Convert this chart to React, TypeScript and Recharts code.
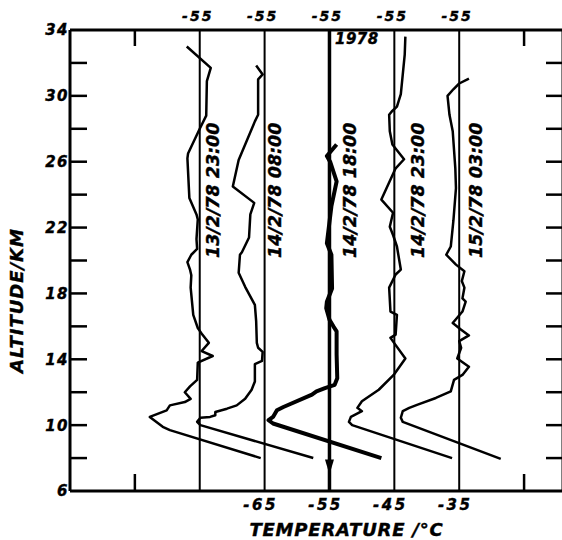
import React from 'react';
import { ComposedChart, Line, XAxis, YAxis, ReferenceLine, ReferenceDot, Label } from 'recharts';

const FONT = "'DejaVu Sans', 'Liberation Sans', sans-serif";
const textStyle: any = { fontFamily: FONT, fontWeight: 700, fontStyle: 'italic', fill: '#000', stroke: '#000', strokeWidth: 0.4 };

// Radiosonde profiles: [altitude km, temperature degC]
const profileNames = ['13/2/78 23:00', '14/2/78 08:00', '14/2/78 18:00', '14/2/78 23:00', '15/2/78 03:00'];
const profileOffsets = [-20, -10, 0, 10, 20];
const referenceTemp = -55;
const yearLabel = '1978';

const profile1: [number, number][] = [
  [8.0, -45.6], [9.7, -59.6], [9.9, -60.7], [10.5, -62.7], [10.9, -60.1], [11.2, -59.6], [11.4, -57.3],
  [11.6, -56.4], [12.0, -57.3], [12.35, -56.5], [12.75, -55.4], [13.8, -55.3], [14.2, -53.0], [14.5, -54.7],
  [15.0, -53.6], [15.5, -54.6], [15.9, -55.3], [16.7, -56.0], [18.35, -56.4], [19.1, -56.3], [19.45, -56.5],
  [19.9, -56.9], [20.35, -56.3], [20.7, -55.4], [21.3, -55.5], [22.5, -55.3], [22.8, -55.5], [23.8, -56.6],
  [26.2, -56.9], [26.5, -56.8], [28.0, -55.0], [28.8, -54.0], [30.9, -53.9], [31.7, -53.3], [33.0, -57.0],
];
const profile2: [number, number][] = [
  [8.0, -47.5], [10.0, -64.9], [10.2, -65.4], [10.45, -64.9], [10.5, -63.4], [10.6, -62.6], [10.8, -62.6],
  [11.0, -60.8], [11.2, -59.3], [11.6, -58.0], [12.15, -57.0], [12.65, -56.5], [13.7, -56.5], [13.9, -55.4],
  [14.45, -55.3], [14.7, -56.0], [15.0, -56.2], [16.3, -56.3], [17.3, -56.5], [18.4, -58.0], [19.25, -59.0],
  [20.35, -58.8], [20.5, -58.5], [21.4, -57.4], [22.8, -57.2], [23.5, -56.6], [24.5, -59.9], [26.1, -59.0],
  [28.45, -56.5], [28.85, -56.0], [31.0, -56.0], [31.3, -55.3], [31.85, -56.3],
];
const profile3: [number, number][] = [
  [8.0, -47.0], [10.1, -63.7], [10.3, -64.4], [10.5, -63.7], [10.9, -63.1], [11.1, -62.1], [11.85, -57.7],
  [12.05, -57.0], [12.25, -55.7], [12.45, -54.2], [12.85, -53.8], [14.3, -53.9], [15.7, -53.9], [16.0, -54.4],
  [16.4, -55.0], [17.1, -55.5], [17.5, -55.4], [18.3, -54.6], [20.35, -54.7], [21.05, -55.4], [23.3, -54.7],
  [24.8, -53.9], [26.0, -54.9], [26.35, -55.4], [27.05, -53.9],
];
const profile4: [number, number][] = [
  [8.0, -46.1], [10.0, -61.5], [10.2, -62.0], [10.5, -61.7], [10.85, -60.0], [11.05, -60.7], [11.45, -60.0],
  [12.15, -57.4], [13.05, -55.1], [14.05, -53.3], [15.3, -55.6], [15.5, -54.8], [16.7, -54.6], [16.9, -55.6],
  [18.35, -55.8], [19.15, -54.8], [19.45, -54.0], [20.85, -54.6], [21.55, -55.2], [22.05, -55.7], [22.9, -55.2],
  [23.7, -57.0], [25.6, -54.8], [26.15, -53.5], [27.05, -55.3], [27.85, -55.7], [28.85, -55.8], [29.05, -55.4],
  [29.35, -54.6], [30.1, -54.0], [31.3, -53.7], [32.5, -53.4], [33.6, -53.3],
];
const profile5: [number, number][] = [
  [7.95, -48.6], [10.2, -63.7], [10.45, -64.0], [10.85, -63.7], [11.05, -62.7], [11.25, -61.4], [11.65, -58.6],
  [12.05, -56.3], [12.75, -55.8], [13.05, -54.5], [13.55, -53.5], [14.05, -55.3], [14.7, -54.7], [15.1, -55.0],
  [15.45, -53.5], [15.8, -54.7], [16.2, -56.0], [16.9, -54.5], [17.5, -54.0], [17.7, -54.5], [18.35, -54.2],
  [18.75, -54.6], [19.35, -54.2], [19.75, -55.5], [20.35, -57.0], [20.85, -56.3], [22.4, -55.9], [24.4, -55.5],
  [25.6, -55.6], [27.85, -56.0], [28.85, -56.5], [30.0, -56.8], [30.4, -55.9], [30.75, -55.0], [31.05, -53.5],
];

// label anchor (bottom end of rotated label), relative to each reference line
const labelShift = [2.0, 1.5, 3.1, 3.6, 2.6];
const labelAlt = 20.15;
const arrowAlt = 7.0;
const yearPos = { t: -54.15, alt: 33.45 };

const altTicks = [6, 8, 10, 12, 14, 16, 18, 20, 22, 24, 26, 28, 30, 32, 34];
const altLabelTicks = [6, 10, 14, 18, 22, 26, 30, 34];
const tempTicks = [-85, -75, -65, -55, -45, -35, -25];
const bottomLabelTicks = [-65, -55, -45, -35];
const edgeTempTicks = [-85, -25];
const tempDomain: [number, number] = [-95, -19];
const altDomain: [number, number] = [6, 34];

const profiles = [profile1, profile2, profile3, profile4, profile5];
const series = profiles.map((pts, i) => pts.map(([alt, temp]) => ({ alt, t: temp + profileOffsets[i] })));
const refPositions = profileOffsets.map((o) => referenceTemp + o);

const renderLeftTick = (props: any) => {
  const { x, y, payload } = props;
  const v = payload.value;
  return (
    <g>
      {v > altDomain[0] && v < altDomain[1] && (
        <line x1={x} x2={x + 17} y1={y} y2={y} stroke="#000" strokeWidth={2.5} />
      )}
      {altLabelTicks.includes(v) && (
        <text x={x - 1} y={y} dy="0.36em" textAnchor="end" fontSize={15} letterSpacing={1.5} style={textStyle}>
          {v}
        </text>
      )}
    </g>
  );
};

const renderRightTick = (props: any) => {
  const { x, y, payload } = props;
  const v = payload.value;
  if (!(v > altDomain[0] && v < altDomain[1])) return <g />;
  return <line x1={x - 17} x2={x} y1={y} y2={y} stroke="#000" strokeWidth={2.5} />;
};

const renderTopTick = (props: any) => {
  const { x, y, payload } = props;
  const v = payload.value;
  if (edgeTempTicks.includes(v)) {
    return <line x1={x} x2={x} y1={y} y2={y + 16} stroke="#000" strokeWidth={2.5} />;
  }
  if (refPositions.includes(v)) {
    return (
      <text x={x - 2} y={y - 9} textAnchor="middle" fontSize={14} letterSpacing={2} style={textStyle}>
        {referenceTemp}
      </text>
    );
  }
  return <g />;
};

const renderBottomTick = (props: any) => {
  const { x, y, payload } = props;
  const v = payload.value;
  if (edgeTempTicks.includes(v)) {
    return <line x1={x} x2={x} y1={y} y2={y - 17} stroke="#000" strokeWidth={2.5} />;
  }
  if (bottomLabelTicks.includes(v)) {
    return (
      <text x={x - 4} y={y + 19} textAnchor="middle" fontSize={15} letterSpacing={2.5} style={textStyle}>
        {v}
      </text>
    );
  }
  return <g />;
};

const XTitle = (props: any) => {
  const vb = props.viewBox || { x: 70, y: 491, width: 493, height: 49 };
  return (
    <text x={vb.x + vb.width / 2 + 30} y={vb.y + vb.height - 4} textAnchor="middle" fontSize={18} letterSpacing={0.8} style={textStyle}>
      TEMPERATURE /°C
    </text>
  );
};

const YTitle = (props: any) => {
  const vb = props.viewBox || { x: 0, y: 30, width: 70, height: 461 };
  const cx = vb.x + 17;
  const cy = vb.y + vb.height / 2 + 40;
  return (
    <text x={cx} y={cy} dy="0.36em" transform={`rotate(-90 ${cx} ${cy})`} textAnchor="middle" fontSize={18} letterSpacing={1} style={textStyle}>
      ALTITUDE/KM
    </text>
  );
};

const makeProfileLabel = (text: string) => (p: any) => (
  <text x={p.cx} y={p.cy} dy="0.36em" transform={`rotate(-90 ${p.cx} ${p.cy})`} textAnchor="start" fontSize={17.5} style={textStyle}>
    {text}
  </text>
);

const arrowShape = (p: any) => (
  <path d={`M${p.cx - 4.5},${p.cy - 15}L${p.cx + 4.5},${p.cy - 15}L${p.cx},${p.cy}Z`} fill="#000" />
);

const yearShape = (p: any) => (
  <text x={p.cx} y={p.cy} dy="0.36em" textAnchor="start" fontSize={15} letterSpacing={0.5} style={textStyle}>
    {yearLabel}
  </text>
);

export default function App() {
  return (
    <div style={{ position: 'absolute', left: 0, top: 0, width: 562, height: 540, overflow: 'hidden', background: '#fff' }}>
      <ComposedChart width={570} height={540} margin={{ top: 0, right: 0, bottom: 0, left: 0 }}>
        <XAxis
          xAxisId="b"
          type="number"
          dataKey="t"
          domain={tempDomain}
          allowDataOverflow
          ticks={tempTicks}
          interval={0}
          orientation="bottom"
          height={49}
          tickSize={0}
          tickMargin={0}
          tickLine={false}
          axisLine={{ stroke: '#000', strokeWidth: 3 }}
          tick={renderBottomTick}
          label={<Label content={XTitle} />}
        />
        <XAxis
          xAxisId="t"
          type="number"
          dataKey="t"
          domain={tempDomain}
          allowDataOverflow
          ticks={tempTicks}
          interval={0}
          orientation="top"
          height={30}
          tickSize={0}
          tickMargin={0}
          tickLine={false}
          axisLine={{ stroke: '#000', strokeWidth: 3 }}
          tick={renderTopTick}
        />
        <YAxis
          yAxisId="l"
          type="number"
          domain={altDomain}
          allowDataOverflow
          ticks={altTicks}
          interval={0}
          orientation="left"
          width={70}
          tickSize={0}
          tickMargin={0}
          tickLine={false}
          axisLine={{ stroke: '#000', strokeWidth: 3 }}
          tick={renderLeftTick}
          label={<Label content={YTitle} />}
        />
        <YAxis
          yAxisId="r"
          type="number"
          domain={altDomain}
          allowDataOverflow
          ticks={altTicks}
          interval={0}
          orientation="right"
          width={7}
          tickSize={0}
          tickMargin={0}
          tickLine={false}
          axisLine={{ stroke: '#000', strokeWidth: 3 }}
          tick={renderRightTick}
        />
        {refPositions.map((xv, i) => (
          <ReferenceLine key={`ref${i}`} x={xv} xAxisId="b" yAxisId="l" stroke="#000" strokeWidth={i === 2 ? 3.5 : 2} />
        ))}
        {series.map((d, i) => (
          <Line
            key={`p${i}`}
            data={d}
            dataKey="alt"
            xAxisId="b"
            yAxisId="l"
            type="linear"
            stroke="#000"
            strokeWidth={i === 2 ? 4 : 2.5}
            strokeLinejoin="round"
            dot={false}
            activeDot={false}
            isAnimationActive={false}
          />
        ))}
        <ReferenceDot x={referenceTemp} y={arrowAlt} xAxisId="b" yAxisId="l" shape={arrowShape} />
        {profileNames.map((name, i) => (
          <ReferenceDot
            key={`lab${i}`}
            x={refPositions[i] + labelShift[i]}
            y={labelAlt}
            xAxisId="b"
            yAxisId="l"
            shape={makeProfileLabel(name)}
          />
        ))}
        <ReferenceDot x={yearPos.t} y={yearPos.alt} xAxisId="b" yAxisId="l" shape={yearShape} />
      </ComposedChart>
    </div>
  );
}
